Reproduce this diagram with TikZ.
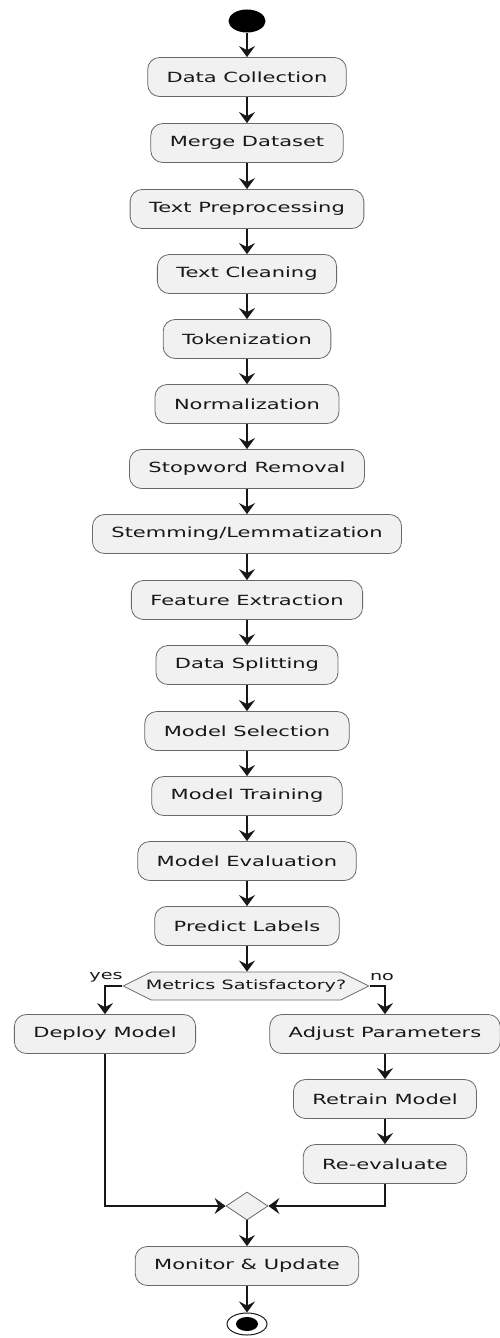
\documentclass[tikz,border=0pt]{standalone}
\usepackage{fontspec}
\setmainfont{DejaVu Sans}[FakeStretch=1.5]
\usetikzlibrary{shapes.geometric,shapes.symbols,arrows.meta}
\definecolor{actfill}{HTML}{F1F1F1}
\definecolor{actline}{HTML}{181818}

\begin{document}
\begin{tikzpicture}[x=1pt,y=-1pt,
  act/.style={draw=actline!65, fill=actfill, rounded corners=12pt, minimum height=39pt, inner xsep=19pt, font=\fontsize{14}{16}\selectfont, text=actline, line width=0.8pt},
  flow/.style={-{Stealth[length=11pt,width=16pt,inset=4pt]}, line width=1.2pt, draw=actline},
  lbl/.style={font=\fontsize{12.8}{14}\selectfont, text=actline, inner sep=0pt}]
\useasboundingbox (0,0) rectangle (499,1338);
% start
\node[ellipse, fill=black, minimum width=37pt, minimum height=23pt, inner sep=0pt] (start) at (247,21) {};
% main chain
\node[act] (collect) at (247,77) {Data Collection};
\node[act] (merge) at (247,143) {Merge Dataset};
\node[act] (prep) at (247,209) {Text Preprocessing};
\node[act] (clean) at (247,274) {Text Cleaning};
\node[act] (token) at (247,339) {Tokenization};
\node[act] (norm) at (247,404) {Normalization};
\node[act] (stopw) at (247,469) {Stopword Removal};
\node[act] (stem) at (247,534) {Stemming/Lemmatization};
\node[act] (feat) at (247,600) {Feature Extraction};
\node[act] (split) at (247,665) {Data Splitting};
\node[act] (select) at (247,731) {Model Selection};
\node[act] (train) at (247,796) {Model Training};
\node[act] (evalm) at (247,861) {Model Evaluation};
\node[act] (predict) at (247,926) {Predict Labels};
% decision
\node[signal, signal to=west and east, signal pointer angle=53, draw=actline!65, fill=actfill, line width=0.8pt, minimum height=28pt, inner xsep=-5.5pt, inner ysep=0pt, font=\fontsize{12.8}{14}\selectfont, text=actline] (dec) at (246,986) {Metrics Satisfactory?};
\node[lbl] (yes) at (106,977) {yes};
\node[lbl] (no) at (382,977) {no};
% branches
\node[act] (deploy) at (105,1034) {Deploy Model};
\node[act] (adjust) at (385,1034) {Adjust Parameters};
\node[act] (retrain) at (385,1099) {Retrain Model};
\node[act] (reeval) at (385,1164) {Re-evaluate};
% merge and end
\node[diamond, draw=actline!65, fill=actfill, line width=0.8pt, minimum width=42pt, minimum height=28pt, inner sep=0pt] (join) at (247,1206) {};
\node[act] (monitor) at (247,1266) {Monitor \& Update};
\node[ellipse, draw=actline, line width=1pt, fill=white, minimum width=40pt, minimum height=22pt, inner sep=0pt] (stop) at (247,1324) {};
\node[ellipse, fill=black, minimum width=22pt, minimum height=14pt, inner sep=0pt] (stopdot) at (stop.center) {};

\draw[flow] (start) -- (collect);
\draw[flow] (collect) -- (merge);
\draw[flow] (merge) -- (prep);
\draw[flow] (prep) -- (clean);
\draw[flow] (clean) -- (token);
\draw[flow] (token) -- (norm);
\draw[flow] (norm) -- (stopw);
\draw[flow] (stopw) -- (stem);
\draw[flow] (stem) -- (feat);
\draw[flow] (feat) -- (split);
\draw[flow] (split) -- (select);
\draw[flow] (select) -- (train);
\draw[flow] (train) -- (evalm);
\draw[flow] (evalm) -- (predict);
\draw[flow] (predict) -- (predict |- dec.north);
\draw[flow] (dec.west) -| (deploy);
\draw[flow] (dec.east) -| (adjust);
\draw[flow] (adjust) -- (retrain);
\draw[flow] (retrain) -- (reeval);
\draw[flow] (deploy) |- (join);
\draw[flow] (reeval) |- (join);
\draw[flow] (join) -- (monitor);
\draw[flow] (monitor) -- (stop);
\end{tikzpicture}
\end{document}
